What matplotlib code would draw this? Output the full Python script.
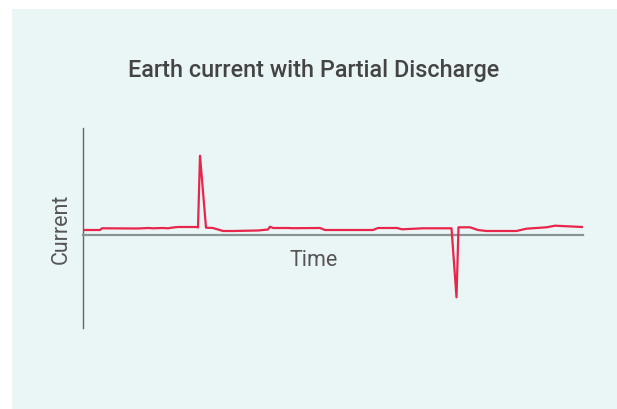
import matplotlib
matplotlib.use("Agg")
import matplotlib.pyplot as plt
from matplotlib.patches import Rectangle

time = [0, 3.4, 3.8, 11, 13, 14, 16, 17, 18, 19, 22.8, 23.0, 23.4, 24.6, 26, 28, 30, 35, 37,
        37.4, 38, 41, 42, 47.4, 48.4, 58, 59, 62.8, 63.8, 68, 73.7, 74.7, 75.1, 77.4, 79,
        80.7, 86.7, 88.7, 90.7, 92.7, 94.4, 99.9]
current = [0.50, 0.50, 0.67, 0.65, 0.70, 0.67, 0.70, 0.67, 0.75, 0.80, 0.80, 0.75, 7.93, 0.73,
           0.70, 0.40, 0.40, 0.45, 0.55, 0.83, 0.70, 0.70, 0.68, 0.70, 0.50, 0.50, 0.70, 0.70,
           0.57, 0.67, 0.67, -6.23, 0.77, 0.77, 0.50, 0.40, 0.40, 0.63, 0.70, 0.77, 0.93, 0.80]

title = "Earth current with Partial Discharge"
xlabel = "Time"
ylabel = "Current"

W, H = 617, 410
fig = plt.figure(figsize=(W / 100, H / 100), dpi=100)
fig.patch.set_facecolor("white")
fig.patches.append(Rectangle((12 / W, -0.02), 1.02 - 12 / W, 1.02 - 10 / H, transform=fig.transFigure,
                             facecolor="#EAF6F6", edgecolor="none", zorder=-5))

ax = fig.add_axes([83 / W, 1 - 329 / H, 500 / W, 200 / H])
ax.set_zorder(2)
ax.set_facecolor("none")
ax.plot(time, current, color="#E8254A", lw=1.6, zorder=3)
ax.set_xlim(0, 100)
ax.set_ylim(-9.3, 10.7)
for s in ["top", "right"]:
    ax.spines[s].set_visible(False)
ax.spines["bottom"].set_position(("data", 0))
ax.spines["bottom"].set_color("#8A9494")
ax.spines["bottom"].set_linewidth(1.6)
ax.spines["left"].set_color("#666666")
ax.spines["left"].set_linewidth(1.0)
ax.set_xticks([])
ax.set_yticks([])

fig.text(314 / W, 1 - 71 / H, title, ha="center", va="center", fontsize=16.8,
         family="Roboto", weight="medium", color="#444444", zorder=5)
fig.text(314 / W, 1 - 260 / H, xlabel, ha="center", va="center", fontsize=15.5,
         family="Roboto", color="#555555", zorder=5)
fig.text(61 / W, 1 - 229 / H, ylabel, ha="center", va="center", fontsize=15.5,
         family="Roboto", color="#555555", rotation=90, zorder=5)

fig.savefig("out.png", dpi=100)
